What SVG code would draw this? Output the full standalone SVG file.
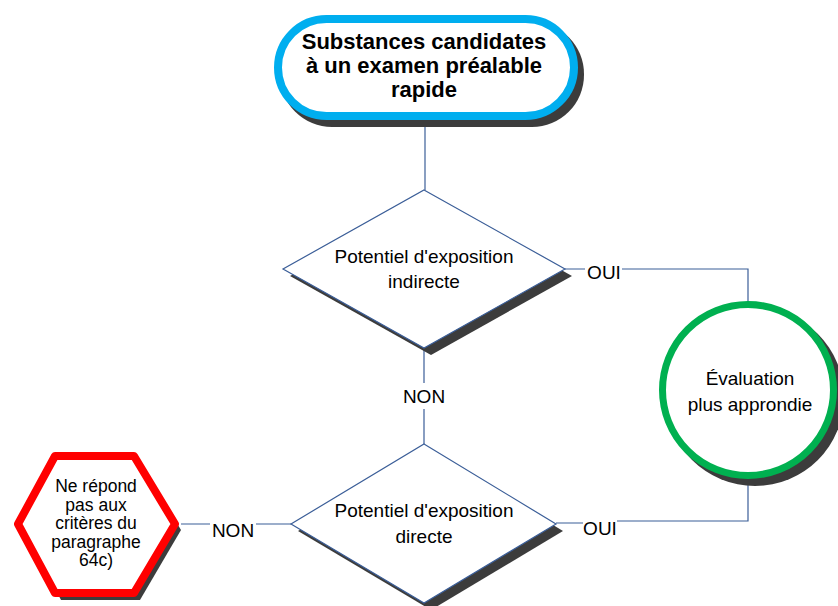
<svg xmlns="http://www.w3.org/2000/svg" width="838" height="606" viewBox="0 0 838 606">
<style>
.t{font-family:"Liberation Sans",Arial,sans-serif;font-size:19px;fill:#000;text-anchor:middle}
.ts{font-family:"Liberation Sans",Arial,sans-serif;font-size:17.5px;fill:#000;text-anchor:middle}
.tb{font-family:"Liberation Sans",Arial,sans-serif;font-size:22px;font-weight:bold;fill:#000;text-anchor:middle}
.c{fill:none;stroke:#3b5e98;stroke-width:1.2}
.sh{fill:#3c3c3c}
.dia{fill:#fff;stroke:#3b5e98;stroke-width:1.2}
</style>
<rect width="838" height="606" fill="#fff"/>
<g id="connectors">
<path class="c" d="M425 120V190"/>
<path class="c" d="M565 269H585M622 269H748V301"/>
<path class="c" d="M424 348V383M424 409V444"/>
<path class="c" d="M748 478V521H617M583 523H556"/>
<path class="c" d="M291 524H256M210 524H181"/>
</g>
<g id="n-start">
<rect class="sh" x="280" y="22" width="304" height="105" rx="52"/>
<rect x="278" y="19" width="296" height="97" rx="48.5" fill="#fff" stroke="#00aeef" stroke-width="8"/>
<text class="tb" x="424" y="49">Substances candidates</text>
<text class="tb" x="424" y="73">à un examen préalable</text>
<text class="tb" x="424" y="97">rapide</text>
</g>
<g id="n-d1">
<polygon class="sh" points="431,197 572,276 431,355 290,276"/>
<polygon class="dia" points="424,190 565,269 424,348 283,269"/>
<text class="t" x="424" y="263">Potentiel d'exposition</text>
<text class="t" x="424" y="288">indirecte</text>
</g>
<text class="t" x="604" y="279">OUI</text>
<text class="t" x="424" y="403">NON</text>
<g id="n-eval">
<circle class="sh" cx="755" cy="397" r="89"/>
<circle cx="748" cy="390" r="85.5" fill="#fff" stroke="#00b050" stroke-width="7"/>
<text class="t" x="750" y="385">Évaluation</text>
<text class="t" x="750" y="411">plus approndie</text>
</g>
<g id="n-d2">
<polygon class="sh" points="431,451 563,531 431,610 298,531"/>
<polygon class="dia" points="424,444 556,524 424,603 291,524"/>
<text class="t" x="424" y="517">Potentiel d'exposition</text>
<text class="t" x="424" y="543">directe</text>
</g>
<text class="t" x="600" y="535">OUI</text>
<text class="t" x="233" y="537">NON</text>
<g id="n-stop">
<polygon class="sh" points="24,530 61,462 140,462 181,530 140,600 61,600"/>
<polygon points="18,524 55,456 134,456 175,524 134,593 55,593" fill="#fff" stroke="#ff0000" stroke-width="8" stroke-linejoin="round"/>
<text class="ts" x="96" y="492">Ne répond</text>
<text class="ts" x="96" y="510.5">pas aux</text>
<text class="ts" x="96" y="529">critères du</text>
<text class="ts" x="96" y="547.5">paragraphe</text>
<text class="ts" x="96" y="566">64c)</text>
</g>
</svg>
